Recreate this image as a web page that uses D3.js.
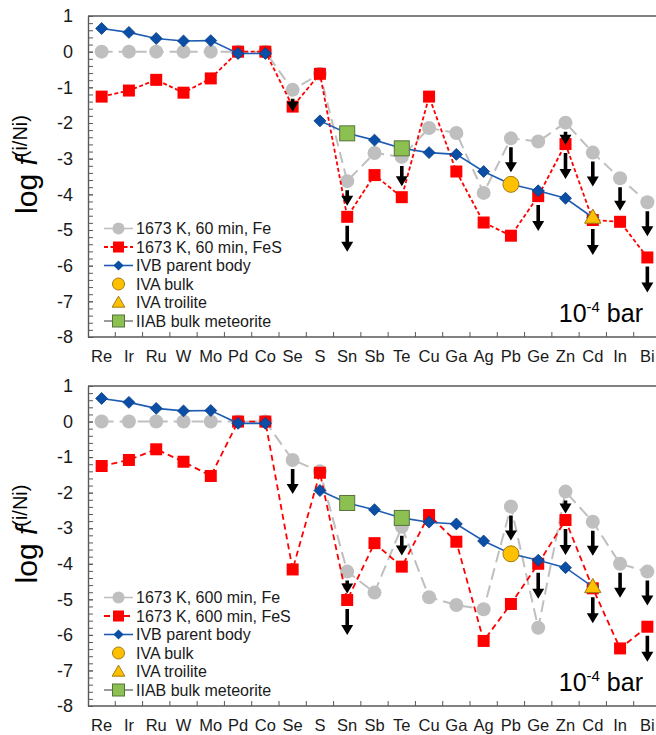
<!DOCTYPE html>
<html>
<head>
<meta charset="utf-8">
<script src="https://cdnjs.cloudflare.com/ajax/libs/d3/7.8.5/d3.min.js"></script>
<style>
body{margin:0;background:#fff;}
svg{display:block;font-family:"Liberation Sans",Arial,sans-serif;}
</style>
</head>
<body>
<div id="chart"></div>
<script>
// x axis elements
elements=["Re","Ir","Ru","W","Mo","Pd","Co","Se","S","Sn","Sb","Te","Cu","Ga","Ag","Pb","Ge","Zn","Cd","In","Bi"];
yTicks=[1,0,-1,-2,-3,-4,-5,-6,-7,-8];

// panel 1 : 60 min runs
fe60=[0,0,0,0,0,0,0,-1.07,-0.62,-3.63,-2.84,-2.95,-2.14,-2.28,-3.96,-2.43,-2.52,-1.99,-2.83,-3.55,-4.22];
fes60=[-1.26,-1.09,-0.79,-1.15,-0.75,0,0,-1.54,-0.62,-4.63,-3.46,-4.08,-1.26,-3.36,-4.79,-5.16,-4.05,-2.59,-4.72,-4.77,-5.77];
lim60Fe=["Se","Sn","Te","Pb","Zn","Cd","In","Bi"];
lim60FeS=["Sn","Ge","Zn","Cd","Bi"];

// panel 2 : 600 min runs
fe600=[0,0,0,0,0,0,0,-1.08,-1.40,-4.22,-4.81,-2.96,-4.94,-5.16,-5.28,-2.39,-5.80,-1.97,-2.82,-4.00,-4.22];
fes600=[-1.25,-1.08,-0.78,-1.13,-1.53,0,0,-4.16,-1.44,-5.02,-3.42,-4.08,-2.63,-3.38,-6.17,-5.13,-4.00,-2.77,-4.69,-6.38,-5.77];
lim600Fe=["Se","Sn","Te","Pb","Zn","Cd","In","Bi"];
lim600FeS=["Sn","Ge","Zn","Cd","Bi"];

// meteorite references (same in both panels)
ivb=[0.65,0.54,0.37,0.30,0.31,-0.05,-0.05,null,-1.94,-2.29,-2.48,-2.71,-2.83,-2.88,-3.36,-3.72,-3.90,-4.11,-4.65,null,null];
iiabEl=["Sn","Te"];
iiabVal=[-2.29,-2.71];
ivaBulkEl=["Pb"];
ivaBulkVal=[-3.72];
ivaTroiliteEl=["Cd"];
ivaTroiliteVal=[-4.65];

legend60=["1673 K, 60 min, Fe","1673 K, 60 min, FeS","IVB parent body","IVA bulk","IVA troilite","IIAB bulk meteorite"];
legend600=["1673 K, 600 min, Fe","1673 K, 600 min, FeS","IVB parent body","IVA bulk","IVA troilite","IIAB bulk meteorite"];

// layout
width=656;
height=735;
left=88;
right=661;
axisColor="#595959";
textColor="#1a1a1a";
gray="#bfbfbf";
red="#ff0000";
blue="#1f5db5";
blueFill="#0a4ea6";

zip=function(arr){return elements.map(function(e,i){return {e:e,v:arr[i]};});};
pairs=function(els,vals){return els.map(function(e,i){return {e:e,v:vals[i]};});};

arrowPath=function(cx,y0,len){
	var hw=6,hh=10,sw=1.8;
	var yh=y0+len-hh;
	return "M"+(cx-sw)+","+y0+"L"+(cx+sw)+","+y0+"L"+(cx+sw)+","+yh+"L"+(cx+hw)+","+yh+
		"L"+cx+","+(y0+len)+"L"+(cx-hw)+","+yh+"L"+(cx-sw)+","+yh+"Z";
};

drawPanel=function(svg,p){
	var g=svg.append('g');
	var y=d3.scaleLinear().domain([-8,1]).range([p.bottom,p.top]);
	var x=d3.scalePoint().domain(elements).range([left,right]).padding(0.5);
	var xb=d3.scaleBand().domain(elements).range([left,right]);

	//minor ticks
	var minor=d3.range(0,46).map(function(i){return Math.round((-8+i*0.2)*10)/10;});
	g.append('g').attr('transform','translate('+left+',0)')
		.call(d3.axisLeft(y).tickValues(minor).tickSize(-5).tickFormat(""))
		.call(function(a){a.selectAll('line').attr('stroke',axisColor);a.select('.domain').remove();});
	//major ticks + labels
	g.append('g').attr('transform','translate('+left+',0)')
		.call(d3.axisLeft(y).tickValues(yTicks).tickSizeInner(-5).tickSizeOuter(0).tickPadding(15).tickFormat(String))
		.call(function(a){
			a.selectAll('line').attr('stroke',axisColor);
			a.select('.domain').attr('stroke',axisColor).attr('stroke-width',1.4);
			a.selectAll('text').attr('font-size',18).attr('fill',textColor).attr('font-family','"Liberation Sans",Arial,sans-serif');
		});

	//frame: top + bottom
	g.append('line').attr('x1',left).attr('x2',right).attr('y1',p.top).attr('y2',p.top)
		.attr('stroke',axisColor).attr('stroke-width',1.4);
	g.append('line').attr('x1',left).attr('x2',right).attr('y1',p.bottom).attr('y2',p.bottom)
		.attr('stroke',axisColor).attr('stroke-width',1.4);
	g.selectAll('.xtick').data(elements.slice(1)).enter().append('line')
		.attr('x1',function(d){return xb(d);}).attr('x2',function(d){return xb(d);})
		.attr('y1',p.bottom).attr('y2',p.bottom-5).attr('stroke',axisColor);
	g.selectAll('.xlab').data(elements).enter().append('text')
		.attr('x',function(d){return x(d);}).attr('y',p.bottom+25)
		.attr('text-anchor','middle').attr('font-size',16.5).attr('fill',textColor)
		.text(function(d){return d;});

	//y title
	var t=g.append('text').attr('transform','translate(37,'+((p.top+p.bottom)/2-12)+') rotate(-90)')
		.attr('text-anchor','middle').attr('fill','#000');
	t.append('tspan').attr('font-size',30).text('log ');
	t.append('tspan').attr('font-size',30).attr('font-style','italic').text('f');
	t.append('tspan').attr('font-size',20).attr('dy',-10).text('(i/Ni)');

	var line=d3.line().defined(function(d){return d.v!=null;})
		.x(function(d){return x(d.e);}).y(function(d){return y(d.v);});

	//Fe series
	g.append('path').datum(zip(p.fe)).attr('d',line).attr('fill','none')
		.attr('stroke',gray).attr('stroke-width',2).attr('stroke-dasharray',p.grayDash);
	g.selectAll('.fe').data(zip(p.fe)).enter().append('circle')
		.attr('cx',function(d){return x(d.e);}).attr('cy',function(d){return y(d.v);})
		.attr('r',7).attr('fill',gray);

	//FeS series
	g.append('path').datum(zip(p.fes)).attr('d',line).attr('fill','none')
		.attr('stroke',red).attr('stroke-width',1.8).attr('stroke-dasharray',p.redDash);
	g.selectAll('.fes').data(zip(p.fes)).enter().append('rect')
		.attr('x',function(d){return x(d.e)-6;}).attr('y',function(d){return y(d.v)-6;})
		.attr('width',12).attr('height',12).attr('fill',red);

	//IVB
	g.append('path').datum(zip(ivb)).attr('d',line).attr('fill','none')
		.attr('stroke',blue).attr('stroke-width',1.6);
	g.selectAll('.ivb').data(zip(ivb).filter(function(d){return d.v!=null;})).enter().append('rect')
		.attr('x',-4.2).attr('y',-4.2).attr('width',8.4).attr('height',8.4)
		.attr('transform',function(d){return 'translate('+x(d.e)+','+y(d.v)+') rotate(45)';})
		.attr('fill',blueFill).attr('stroke','#083d85').attr('stroke-width',0.8);

	//IIAB
	g.selectAll('.iiab').data(pairs(iiabEl,iiabVal)).enter().append('rect')
		.attr('x',function(d){return x(d.e)-7.5;}).attr('y',function(d){return y(d.v)-7.5;})
		.attr('width',15).attr('height',15).attr('fill','#8cc152').attr('stroke','#55733a').attr('stroke-width',1);

	//IVA bulk
	g.selectAll('.ivab').data(pairs(ivaBulkEl,ivaBulkVal)).enter().append('circle')
		.attr('cx',function(d){return x(d.e);}).attr('cy',function(d){return y(d.v);})
		.attr('r',8).attr('fill','#ffc000').attr('stroke','#a07c10').attr('stroke-width',1);

	//IVA troilite
	g.selectAll('.ivat').data(pairs(ivaTroiliteEl,ivaTroiliteVal)).enter().append('path')
		.attr('d',d3.symbol().type(d3.symbolTriangle).size(115))
		.attr('transform',function(d){return 'translate('+x(d.e)+','+(y(d.v)+1)+')';})
		.attr('fill','#ffc000').attr('stroke','#a07c10').attr('stroke-width',1);

	//upper limit arrows
	var arrows=[];
	p.limFe.forEach(function(e){
		var i=elements.indexOf(e);
		var yg=y(p.fe[i]),yr=y(p.fes[i]);
		var len=25;
		if(yr>yg&&yr-yg<45)len=Math.max(13,Math.min(25,yr-yg-20));
		arrows.push({x:x(e),y0:yg+9,len:len});
	});
	p.limFeS.forEach(function(e){
		var i=elements.indexOf(e);
		arrows.push({x:x(e),y0:y(p.fes[i])+9,len:26});
	});
	g.selectAll('.arrow').data(arrows).enter().append('path')
		.attr('d',function(d){return arrowPath(d.x,d.y0,d.len);}).attr('fill','#000');

	//legend
	var lg=g.append('g');
	var rowH=18.5;
	p.legend.forEach(function(name,i){
		var ly=p.legendY+i*rowH;
		var mx=118.5;
		if(i==0||i==1||i==2||i==5){
			lg.append('line').attr('x1',104).attr('x2',133).attr('y1',ly).attr('y2',ly)
				.attr('stroke',[gray,red,blue,'#808080','#808080','#808080'][i])
				.attr('stroke-width',i==1?1.8:1.6)
				.attr('stroke-dasharray',i==1?p.redDash:null);
		}
		if(i==0)lg.append('circle').attr('cx',mx).attr('cy',ly).attr('r',6).attr('fill',gray);
		if(i==1)lg.append('rect').attr('x',mx-5.5).attr('y',ly-5.5).attr('width',11).attr('height',11).attr('fill',red);
		if(i==2)lg.append('rect').attr('x',-3.6).attr('y',-3.6).attr('width',7.2).attr('height',7.2)
			.attr('transform','translate('+mx+','+ly+') rotate(45)').attr('fill',blueFill);
		if(i==3)lg.append('circle').attr('cx',mx).attr('cy',ly).attr('r',6).attr('fill','#ffc000').attr('stroke','#a07c10');
		if(i==4)lg.append('path').attr('d',d3.symbol().type(d3.symbolTriangle).size(70))
			.attr('transform','translate('+mx+','+(ly+1)+')').attr('fill','#ffc000').attr('stroke','#a07c10');
		if(i==5)lg.append('rect').attr('x',mx-6).attr('y',ly-6).attr('width',12).attr('height',12)
			.attr('fill','#8cc152').attr('stroke','#55733a');
		lg.append('text').attr('x',136).attr('y',ly).attr('dy','0.36em')
			.attr('font-size',16).attr('fill',textColor).text(name);
	});

	//pressure label
	var pt=g.append('text').attr('x',643).attr('y',p.bottom-15).attr('text-anchor','end')
		.attr('font-size',25).attr('fill','#000');
	pt.append('tspan').text('10');
	pt.append('tspan').attr('font-size',15).attr('dy',-10).text('-4');
	pt.append('tspan').attr('dy',10).text(' bar');
};

main=function(){
	var svg=d3.select('#chart').append('svg').attr('width',width).attr('height',height);
	drawPanel(svg,{top:16,bottom:337,fe:fe60,fes:fes60,limFe:lim60Fe,limFeS:lim60FeS,
		legend:legend60,legendY:228.5,grayDash:"11,6",redDash:"4,2.5"});
	drawPanel(svg,{top:386,bottom:706,fe:fe600,fes:fes600,limFe:lim600Fe,limFeS:lim600FeS,
		legend:legend600,legendY:597.5,grayDash:"12,6",redDash:"6,4"});
};

main();
</script>
</body>
</html>
